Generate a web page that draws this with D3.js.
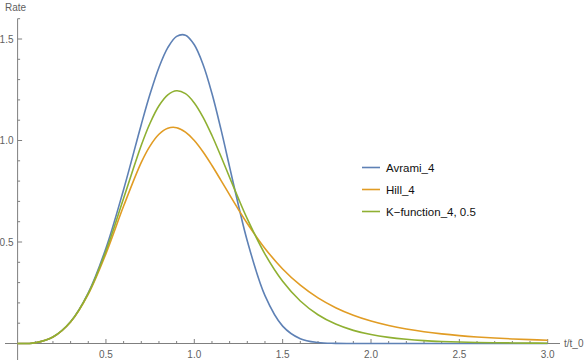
<!DOCTYPE html>
<html>
<head>
<meta charset="utf-8">
<script src="https://cdn.jsdelivr.net/npm/d3@7/dist/d3.min.js"></script>
<style>
  html, body { margin: 0; padding: 0; background: #fff; }
  svg { display: block; font-family: "Liberation Sans", Arial, sans-serif; }
</style>
</head>
<body>
<div id="chart"></div>
<script>
// sample points (t/t_0 vs rate)
const tValues = [0, 0.1, 0.2, 0.3, 0.4, 0.5, 0.6, 0.7, 0.75, 0.8, 0.85, 0.9, 0.95, 1.0, 1.05, 1.1, 1.15, 1.2, 1.25, 1.3,
  1.4, 1.5, 1.6, 1.7, 1.8, 1.9, 2.0, 2.1, 2.2, 2.3, 2.4, 2.5, 2.6, 2.7, 2.8, 2.9, 3.0];

const avrami = [0, 0.004, 0.0320, 0.1071, 0.2495, 0.4697, 0.7590, 1.0792, 1.2298, 1.3598, 1.4575, 1.5130, 1.5188, 1.4715, 1.3732, 1.2314, 1.0582, 0.8691, 0.6800, 0.5053,
  0.2355, 0.0855, 0.0233, 0.0046, 0.0006, 0.0001, 0, 0, 0, 0, 0, 0, 0, 0, 0, 0, 0];

const hill = [0, 0.004, 0.0319, 0.1063, 0.2434, 0.4429, 0.6771, 0.8922, 0.9738, 1.0307, 1.0604, 1.0632, 1.0416, 1.0000, 0.9434, 0.8768, 0.8050, 0.7317, 0.6597, 0.5910,
  0.4682, 0.3673, 0.2872, 0.2247, 0.1765, 0.1393, 0.1107, 0.0886, 0.0714, 0.0579, 0.0473, 0.0389, 0.0322, 0.0269, 0.0225, 0.0190, 0.0161];

const kfunc = [0, 0.004, 0.0319, 0.1067, 0.2464, 0.4559, 0.7157, 0.9764, 1.0862, 1.1711, 1.2251, 1.2449, 1.2306, 1.1852, 1.1142, 1.0246, 0.9236, 0.8180, 0.7134, 0.6139,
  0.4405, 0.3066, 0.2094, 0.1417, 0.0956, 0.0646, 0.0439, 0.0300, 0.0207, 0.0144, 0.0102, 0.0072, 0.0052, 0.0038, 0.0027, 0.0020, 0.0015];

const seriesNames = ['Avrami_4', 'Hill_4', 'K\u2212function_4, 0.5'];
const seriesColors = ['#5e81b5', '#e19c24', '#8fb032'];

const xMajorTicks = [0.5, 1.0, 1.5, 2.0, 2.5, 3.0];
const yMajorTicks = [0.5, 1.0, 1.5];

const width = 588;
const height = 362;

const svg = d3.select('#chart').append('svg')
    .attr('width', width)
    .attr('height', height);

const x = d3.scaleLinear().domain([0, 3]).range([17.6, 547.7]);
const y = d3.scaleLinear().domain([0, 1.5]).range([343.5, 39]);

const axisColor = '#7f7f7f';
const labelColor = '#5f5f5f';

// axes lines
svg.append('line')
    .attr('x1', 5).attr('x2', 560)
    .attr('y1', y(0)).attr('y2', y(0))
    .style('stroke', axisColor).style('stroke-width', 1);

svg.append('line')
    .attr('x1', x(0)).attr('x2', x(0))
    .attr('y1', y(1.6)).attr('y2', 360)
    .style('stroke', axisColor).style('stroke-width', 1);

// x ticks (minor every 0.1, pointing up)
const xMinor = d3.range(1, 31).map(i => i / 10);
svg.selectAll('.xtick')
    .data(xMinor)
    .enter().append('line')
    .attr('class', 'xtick')
    .attr('x1', d => x(d)).attr('x2', d => x(d))
    .attr('y1', y(0))
    .attr('y2', d => y(0) - (xMajorTicks.some(m => Math.abs(m - d) < 1e-6) ? 4.5 : 2.5))
    .style('stroke', axisColor);

svg.selectAll('.xlabel')
    .data(xMajorTicks)
    .enter().append('text')
    .attr('class', 'xlabel')
    .attr('x', d => x(d))
    .attr('y', 357.5)
    .attr('text-anchor', 'middle')
    .style('font-size', '10px')
    .style('fill', labelColor)
    .text(d => d.toFixed(1));

// y ticks (minor every 0.1, pointing right)
const yMinor = d3.range(1, 17).map(i => i / 10);
svg.selectAll('.ytick')
    .data(yMinor)
    .enter().append('line')
    .attr('class', 'ytick')
    .attr('y1', d => y(d)).attr('y2', d => y(d))
    .attr('x1', x(0))
    .attr('x2', d => x(0) + (yMajorTicks.some(m => Math.abs(m - d) < 1e-6) ? 4.5 : 2.5))
    .style('stroke', axisColor);

svg.selectAll('.ylabel')
    .data(yMajorTicks)
    .enter().append('text')
    .attr('class', 'ylabel')
    .attr('x', 13.5)
    .attr('y', d => y(d))
    .attr('dy', '0.35em')
    .attr('text-anchor', 'end')
    .style('font-size', '10px')
    .style('fill', labelColor)
    .text(d => d.toFixed(1));

// axis titles
svg.append('text')
    .attr('x', 5).attr('y', 10.5)
    .style('font-size', '10px')
    .style('fill', labelColor)
    .text('Rate');

svg.append('text')
    .attr('x', 564).attr('y', y(0))
    .attr('dy', '0.35em')
    .style('font-size', '10px')
    .style('fill', labelColor)
    .text('t/t_0');

// curves
const seriesData = [avrami, hill, kfunc];
const line = d3.line()
    .x(d => x(d[0]))
    .y(d => y(d[1]))
    .curve(d3.curveCatmullRom.alpha(0.5));

svg.append('g')
    .selectAll('path')
    .data(seriesData)
    .enter().append('path')
    .attr('d', vals => line(tValues.map((t, i) => [t, vals[i]])))
    .style('fill', 'none')
    .style('stroke', (d, i) => seriesColors[i])
    .style('stroke-width', 1.6);

// legend
const legend = svg.append('g')
    .attr('transform', 'translate(362,167.5)');

const item = legend.selectAll('.item')
    .data(seriesNames)
    .enter().append('g')
    .attr('class', 'item')
    .attr('transform', (d, i) => `translate(0,${i * 22})`);

item.append('line')
    .attr('x1', 0).attr('x2', 18)
    .style('stroke', (d, i) => seriesColors[i])
    .style('stroke-width', 1.6);

item.append('text')
    .attr('x', 24)
    .attr('dy', '0.35em')
    .style('font-size', '11.5px')
    .style('fill', '#111')
    .text(d => d);
</script>
</body>
</html>
